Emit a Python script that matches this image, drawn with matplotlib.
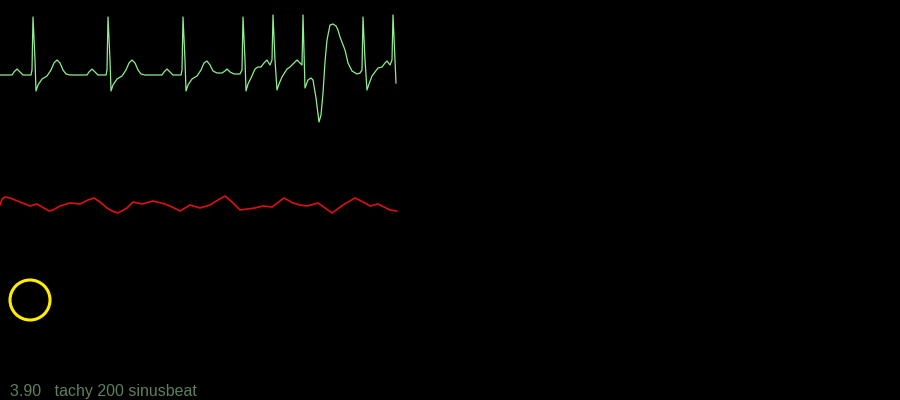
# Monitor-style strip: ECG lead on top, pleth wave below, status line at the bottom
import matplotlib.pyplot as plt
from matplotlib.patches import Circle

# ECG trace (x = sample position, y = screen row)
ecg_x = [0, 12, 14, 17, 20, 23, 31, 32, 33, 35, 36, 38, 42, 47, 51, 54, 57, 60, 63, 66, 70,
         87, 89, 92, 95, 98, 106, 107, 108, 110, 111, 113, 117, 122, 126, 129, 132, 135, 138, 141, 145,
         162, 164, 167, 170, 173, 181, 182, 183, 185, 186, 188, 192, 197, 201, 204, 207, 210, 213, 217,
         222, 225, 227, 230, 234, 240, 242, 243, 245, 246, 248, 251, 255, 258, 261, 264, 267, 270, 272,
         273, 275, 277, 279, 282, 287, 290, 294, 297, 300, 302, 303, 305, 308, 311, 313, 316, 319, 321,
         323, 325, 327, 330, 333, 336, 338, 340, 345, 348, 352, 357, 360, 362, 363, 365, 367, 369, 372,
         375, 378, 382, 385, 387, 390, 392, 393, 396]
ecg_y = [75, 75, 72, 69, 72, 75, 75, 70, 17, 60, 91, 85, 79, 76, 70, 63, 60, 63, 70, 74, 75,
         75, 72, 69, 72, 75, 75, 70, 17, 60, 91, 85, 79, 76, 70, 63, 60, 63, 70, 74, 75,
         75, 72, 69, 72, 75, 75, 70, 17, 60, 91, 85, 79, 76, 70, 63, 61, 65, 71, 73,
         73, 71, 69, 72, 74, 74, 70, 17, 60, 91, 84, 78, 69, 67, 67, 63, 60, 65, 60,
         15, 60, 90, 84, 77, 69, 67, 63, 60, 63, 65, 15, 88, 80, 78, 80, 98, 122, 115,
         93, 62, 40, 25, 24, 26, 30, 37, 50, 63, 71, 74, 73, 70, 17, 60, 90, 84, 76,
         72, 68, 67, 63, 61, 65, 60, 15, 83]

# pleth trace
pleth_x = [0, 2, 5, 10, 20, 30, 37, 42, 49, 53, 60, 70, 80, 88, 94, 100, 107, 112, 118, 127,
           133, 142, 153, 165, 172, 180, 190, 200, 210, 218, 225, 232, 240, 255, 263, 272, 284,
           293, 300, 307, 318, 325, 332, 343, 355, 365, 370, 378, 390, 397]
pleth_y = [205, 199, 197, 198, 202, 206, 204, 207, 211, 210, 206, 203, 204, 200, 198, 202, 208,
           211, 213, 208, 202, 204, 201, 204, 207, 211, 205, 208, 205, 200, 196, 202, 210, 208,
           206, 207, 198, 203, 205, 206, 203, 208, 213, 205, 198, 203, 206, 204, 210, 211]

# status indicator and readout
indicator_center = (30, 300)
indicator_radius = 20
readout_value = 3.90
rhythm = "tachy 200 sinusbeat"

fig = plt.figure(figsize=(9, 4), dpi=100, facecolor='black')
ax = fig.add_axes([0, 0, 1, 1])
ax.set_facecolor('black')
ax.set_xlim(0, 900)
ax.set_ylim(400, 0)
ax.axis('off')

ax.plot(ecg_x, ecg_y, color='#90ee90', lw=0.9, solid_joinstyle='round')
ax.plot(pleth_x, pleth_y, color='#dd1111', lw=1.2, solid_joinstyle='round', solid_capstyle='round')

ax.add_patch(Circle(indicator_center, indicator_radius, fill=False, edgecolor='#ffee00', lw=2.2))

ax.text(10, 396, f"{readout_value:.2f}   {rhythm}", color='#5f7f5f', fontsize=11.5,
        family='Liberation Sans', va='baseline', ha='left')

fig.savefig('out.png', dpi=100, facecolor='black')
